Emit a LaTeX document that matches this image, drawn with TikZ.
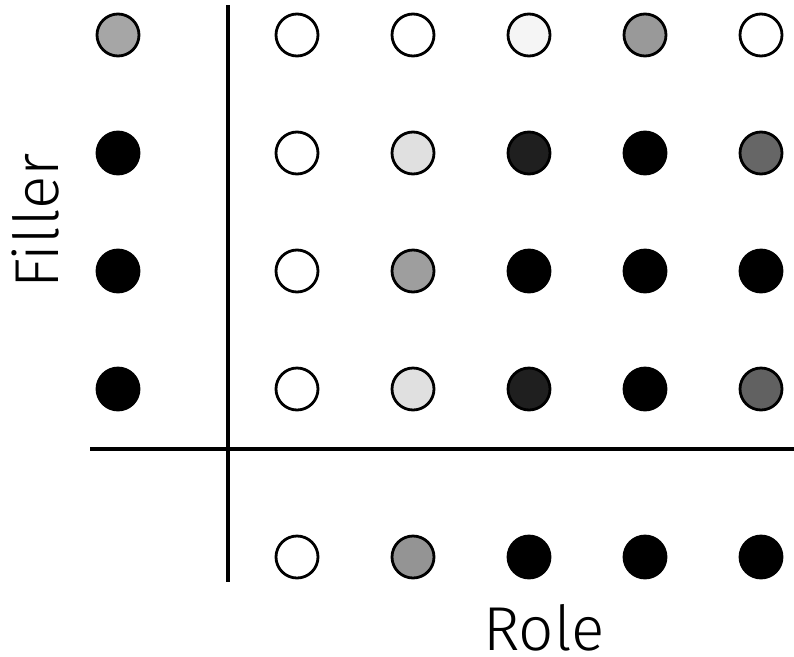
\documentclass[tikz,border=0pt]{standalone}
\usepackage{fontspec}
\setmainfont{Fira Sans Light}
\begin{document}
\begin{tikzpicture}[x=1pt,y=-1pt,
    unit/.style={circle,draw=black,line width=2.8pt,minimum size=42pt,inner sep=0pt},
    axis/.style={line width=3.6pt},
    label/.style={font=\fontsize{62}{70}\selectfont,inner sep=0pt,text depth=0pt}]
  \useasboundingbox (0,0) rectangle (794,656);
  % axes
  \coordinate (vtop) at (228,5);
  \coordinate (vbot) at (228,582);
  \coordinate (hleft) at (90,449);
  \coordinate (hright) at (794,449);
  \draw[axis] (vtop) -- (vbot);
  \draw[axis] (hleft) -- (hright);
  % filler column
  \foreach \y/\s [count=\r] in {35/35,153/100,271/100,389/100}
    \node[unit,fill=black!\s] (f\r) at (118,\y) {};
  % role row
  \foreach \s [count=\c] in {0,42,100,100,100}
    \node[unit,fill=black!\s] (b\c) at (297+116*\c-116,557) {};
  % binding units
  \foreach \y/\shades [count=\r] in {35/{0,0,4,40,0},153/{0,12,88,100,60},
      271/{0,38,100,100,100},389/{0,12,88,100,62}}
    \foreach \s [count=\c] in \shades
      \node[unit,fill=black!\s] (u\r\c) at (297+116*\c-116,\y) {};
  % labels
  \node[label,rotate=90,anchor=base] (filler) at (58,221) {Filler};
  \node[label,anchor=base] (role) at (544,650) {Role};
\end{tikzpicture}
\end{document}
